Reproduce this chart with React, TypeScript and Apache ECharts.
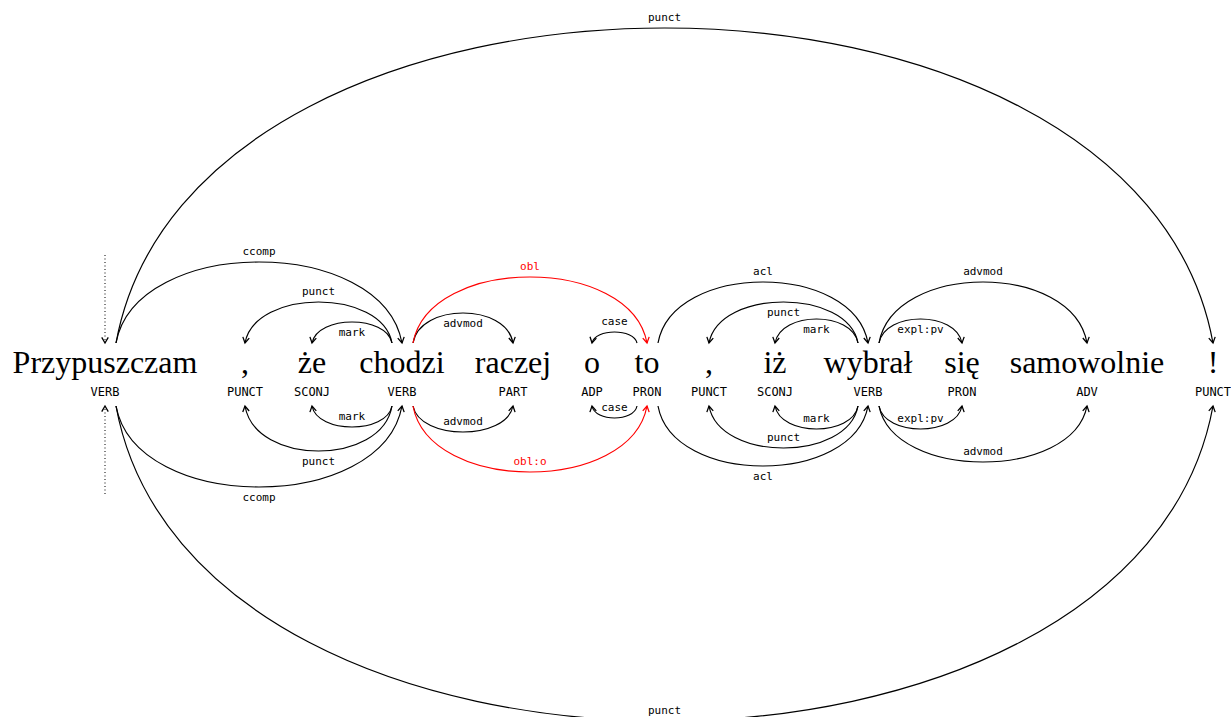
import React, { useEffect, useRef } from "react";
import * as echarts from "echarts";

// ---- data ----
const words = ["Przypuszczam", ",", "że", "chodzi", "raczej", "o", "to", ",", "iż", "wybrał", "się", "samowolnie", "!"];
const tags = ["VERB", "PUNCT", "SCONJ", "VERB", "PART", "ADP", "PRON", "PUNCT", "SCONJ", "VERB", "PRON", "ADV", "PUNCT"];
const wordX = [105, 245, 312, 402, 513, 592, 647, 709, 775, 868, 962, 1087, 1213];
const rootIndex = 0;

const arcHeads = [0, 0, 3, 3, 3, 3, 6, 6, 9, 9, 9, 9];
const arcDeps = [12, 3, 1, 2, 4, 6, 5, 9, 7, 8, 10, 11];
const upperLabels = ["punct", "ccomp", "punct", "mark", "advmod", "obl", "case", "acl", "punct", "mark", "expl:pv", "advmod"];
const lowerLabels = ["punct", "ccomp", "punct", "mark", "advmod", "obl:o", "case", "acl", "punct", "mark", "expl:pv", "advmod"];
const upperHeights = [315, 81, 41, 21, 30, 66, 11, 61, 41, 24, 24, 61];
const lowerHeights = [315, 81, 45, 21, 26, 66, 12, 60, 42, 23, 23, 56];

// ---- styling ----
const upperLabelAbove = [true, true, true, false, false, true, true, true, false, false, false, true];
const lowerLabelAbove = [true, false, false, true, true, true, true, false, true, true, true, true];
const redArcs = [false, false, false, false, false, true, false, false, false, false, false, false];

const W = 1231;
const H = 717;
const UP_Y = 343;
const LOW_Y = 406;
const WORD_Y = 362;
const TAG_Y = 392;
const ROOT_LEN = 88;
const RED = "#ff0000";
const MONO = '"DejaVu Sans Mono", monospace';

function arrowHead(tx: number, ty: number, dx: number, dy: number, color: string) {
  const len = Math.hypot(dx, dy) || 1;
  const ux = dx / len, uy = dy / len;
  const L = 6.5, ang = (30 * Math.PI) / 180;
  const c = Math.cos(ang), s = Math.sin(ang);
  const b1 = [tx - L * (ux * c - uy * s), ty - L * (uy * c + ux * s)];
  const b2 = [tx - L * (ux * c + uy * s), ty - L * (uy * c - ux * s)];
  return {
    type: "polyline",
    shape: { points: [b1, [tx, ty], b2] },
    style: { stroke: color, lineWidth: 1.3, fill: null, lineJoin: "miter" },
  };
}

function makeArcRenderer(up: boolean, labels: string[], above: boolean[]) {
  return (params: any, api: any) => {
    const i = params.dataIndex;
    const hx = api.value(0);
    const dxv = api.value(1);
    const h = api.value(2);
    const baseY = up ? UP_Y : LOW_Y;
    const sgn = up ? -1 : 1;
    const headPt = api.coord([hx, baseY]);
    const depPt = api.coord([dxv, baseY]);
    const peakPt = api.coord([hx, baseY + sgn * h]);
    const sx = headPt[0] + (dxv > hx ? 11 : -10);
    const sy = headPt[1];
    const ex = depPt[0];
    const ey = depPt[1];
    const hp = peakPt[1] - sy;
    const Hc = (hp * 4) / 3;
    const w = ex - sx;
    const alpha = 0.07;
    const cp1x = sx + alpha * w, cp1y = sy + Hc;
    const cp2x = ex - alpha * w, cp2y = ey + Hc;
    const color = redArcs[i] ? RED : "#000";
    const labelY = peakPt[1] + (above[i] ? -11 : 10);
    return {
      type: "group",
      children: [
        {
          type: "bezierCurve",
          shape: { x1: sx, y1: sy, x2: ex, y2: ey, cpx1: cp1x, cpy1: cp1y, cpx2: cp2x, cpy2: cp2y },
          style: { stroke: color, lineWidth: 1.2, fill: null },
        },
        arrowHead(ex, ey, ex - cp2x, ey - cp2y, color),
        {
          type: "text",
          style: {
            text: labels[i],
            x: (sx + ex) / 2,
            y: labelY,
            fill: color,
            font: `11px ${MONO}`,
            align: "center",
            verticalAlign: "middle",
          },
        },
      ],
    };
  };
}

export default function App() {
  const ref = useRef<HTMLDivElement>(null);
  useEffect(() => {
    if (!ref.current) return;
    const chart = echarts.init(ref.current, undefined, { renderer: "svg" });
    const upperData = arcHeads.map((hd, i) => [wordX[hd], wordX[arcDeps[i]], upperHeights[i]]);
    const lowerData = arcHeads.map((hd, i) => [wordX[hd], wordX[arcDeps[i]], lowerHeights[i]]);
    const wordData = wordX.map((x, i) => [x, i]);
    chart.setOption({
      animation: false,
      backgroundColor: "#fff",
      grid: { left: 0, right: 0, top: 0, bottom: 0 },
      xAxis: { type: "value", min: 0, max: W, show: false },
      yAxis: { type: "value", min: 0, max: H, inverse: true, show: false },
      series: [
        {
          type: "custom",
          name: "words",
          data: wordData,
          encode: { x: 0 },
          renderItem: (params: any, api: any) => {
            const i = params.dataIndex;
            const pw = api.coord([api.value(0), WORD_Y]);
            const pt = api.coord([api.value(0), TAG_Y]);
            const children: any[] = [
              {
                type: "text",
                style: {
                  text: words[i],
                  x: pw[0],
                  y: pw[1],
                  fill: "#000",
                  font: '32px "Liberation Serif", serif',
                  align: "center",
                  verticalAlign: "middle",
                },
              },
              {
                type: "text",
                style: {
                  text: tags[i],
                  x: pt[0],
                  y: pt[1],
                  fill: "#000",
                  font: `12px ${MONO}`,
                  align: "center",
                  verticalAlign: "middle",
                },
              },
            ];
            if (i === rootIndex) {
              const top = api.coord([api.value(0), UP_Y - ROOT_LEN]);
              const tip = api.coord([api.value(0), UP_Y]);
              const bot = api.coord([api.value(0), LOW_Y + ROOT_LEN]);
              const tip2 = api.coord([api.value(0), LOW_Y]);
              children.push(
                {
                  type: "line",
                  shape: { x1: top[0], y1: top[1], x2: tip[0], y2: tip[1] - 1 },
                  style: { stroke: "#000", lineWidth: 1, lineDash: [1, 2.5] },
                },
                arrowHead(tip[0], tip[1], 0, 1, "#000"),
                {
                  type: "line",
                  shape: { x1: bot[0], y1: bot[1], x2: tip2[0], y2: tip2[1] + 1 },
                  style: { stroke: "#000", lineWidth: 1, lineDash: [1, 2.5] },
                },
                arrowHead(tip2[0], tip2[1], 0, -1, "#000")
              );
            }
            return { type: "group", children };
          },
        },
        {
          type: "custom",
          name: "upper",
          data: upperData,
          encode: { x: [0, 1] },
          renderItem: makeArcRenderer(true, upperLabels, upperLabelAbove),
        },
        {
          type: "custom",
          name: "lower",
          data: lowerData,
          encode: { x: [0, 1] },
          renderItem: makeArcRenderer(false, lowerLabels, lowerLabelAbove),
        },
      ],
    });
    return () => chart.dispose();
  }, []);
  return (
    <div
      ref={ref}
      style={{ position: "fixed", left: 0, top: 0, width: W, height: H, background: "#fff" }}
    />
  );
}
